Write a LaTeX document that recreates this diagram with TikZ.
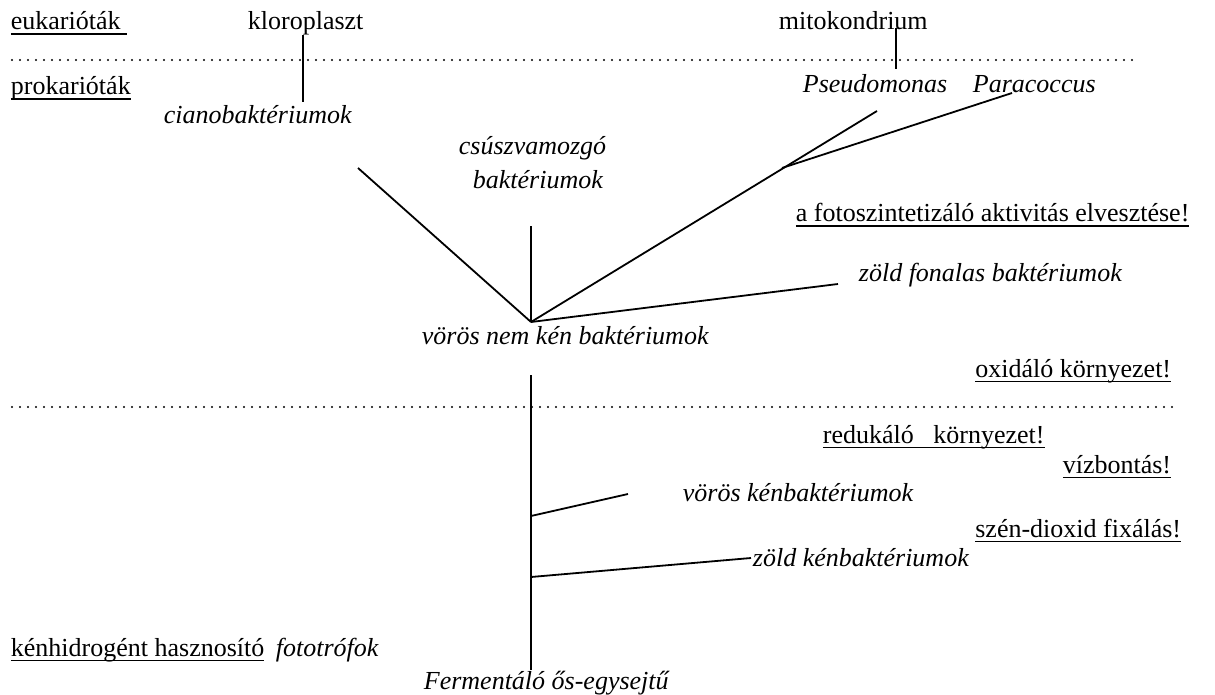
\documentclass[tikz,border=0pt]{standalone}
\usepackage{fontspec}
\setmainfont{Liberation Serif}
\newcommand{\myul}[1]{\setbox0\hbox{#1}\rlap{\rule[-5pt]{\wd0}{1.5pt}}\box0}
\begin{document}
\begin{tikzpicture}[x=1pt,y=-1pt,line width=1.8pt,
  txt/.style={anchor=base west,inner sep=0pt,font=\fontsize{26}{30}\selectfont},
  itx/.style={anchor=base west,inner sep=0pt,font=\fontsize{26}{30}\selectfont\itshape},
  dotline/.style={line width=2.3pt,dash pattern=on 0pt off 8pt,line cap=round},
  branch/.style={line width=1.8pt}]
\useasboundingbox (0,0) rectangle (1215,695);
% texts
\node[txt] (euk) at (10,30) {\myul{eukarióták\ }};
\node[txt] (klo) at (247,30) {kloroplaszt};
\node[txt] (mito) at (778,30) {mitokondrium};
\node[txt] (prok) at (10,95) {\myul{prokarióták}};
\node[itx] (cia) at (163,124) {cianobaktériumok};
\node[itx] (pse) at (802,93) {Pseudomonas};
\node[itx] (para) at (972,93) {Paracoccus};
\node[itx] (csu1) at (458,155) {csúszvamozgó};
\node[itx] (csu2) at (472,189) {baktériumok};
\node[txt] (foto) at (795,222) {\myul{a fotoszintetizáló aktivitás elvesztése!}};
\node[itx] (zf) at (858,281) {zöld fonalas baktériumok};
\node[itx] (vnk) at (421,344) {vörös nem kén baktériumok};
\node[txt,anchor=base east] (oxi) at (1172,377) {\myul{oxidáló környezet!}};
\node[txt] (red) at (822,443) {\myul{redukáló\ \ \ környezet!}};
\node[txt,anchor=base east] (viz) at (1172,473) {\myul{vízbontás!}};
\node[itx] (vk) at (682,501) {vörös kénbaktériumok};
\node[txt,anchor=base east] (co2) at (1182,537) {\myul{szén-dioxid fixálás!}};
\node[itx] (zk) at (752,566) {zöld kénbaktériumok};
\node[txt] (kh) at (10,656) {\myul{kénhidrogént hasznosító}};
\node[itx] (fot) at (275,656) {fototrófok};
\node[itx] (ferm) at (423,689) {Fermentáló ős-egysejtű};
% coordinates
\coordinate (kloA) at (303,35);
\coordinate (kloB) at (303,102);
\coordinate (mitoA) at (896,28);
\coordinate (mitoB) at (896,69);
\coordinate (v) at (531,322);
\coordinate (ciaE) at (358,168);
\coordinate (csuE) at (531,226);
\coordinate (pseE) at (877,111);
\coordinate (paraE) at (1012,93);
\coordinate (junc) at (782,168);
\coordinate (zfE) at (838,284);
\coordinate (trTop) at (531,375);
\coordinate (trBot) at (531,670);
\coordinate (b1) at (531,516);
\coordinate (b1E) at (628,494);
\coordinate (b2) at (531,577);
\coordinate (b2E) at (751,558);
\coordinate (d1A) at (12,60);
\coordinate (d1B) at (1135,60);
\coordinate (d2A) at (12,407);
\coordinate (d2B) at (1175,407);
% dotted separators
\draw[dotline] (d1A) -- (d1B);
\draw[dotline] (d2A) -- (d2B);
% branches
\draw[branch] (kloA) -- (kloB);
\draw[branch] (mitoA) -- (mitoB);
\draw[branch] (ciaE) -- (v);
\draw[branch] (csuE) -- (v);
\draw[branch] (pseE) -- (v);
\draw[branch] (paraE) -- (junc);
\draw[branch] (zfE) -- (v);
\draw[branch] (trTop) -- (trBot);
\draw[branch] (b1) -- (b1E);
\draw[branch] (b2) -- (b2E);
\end{tikzpicture}
\end{document}
